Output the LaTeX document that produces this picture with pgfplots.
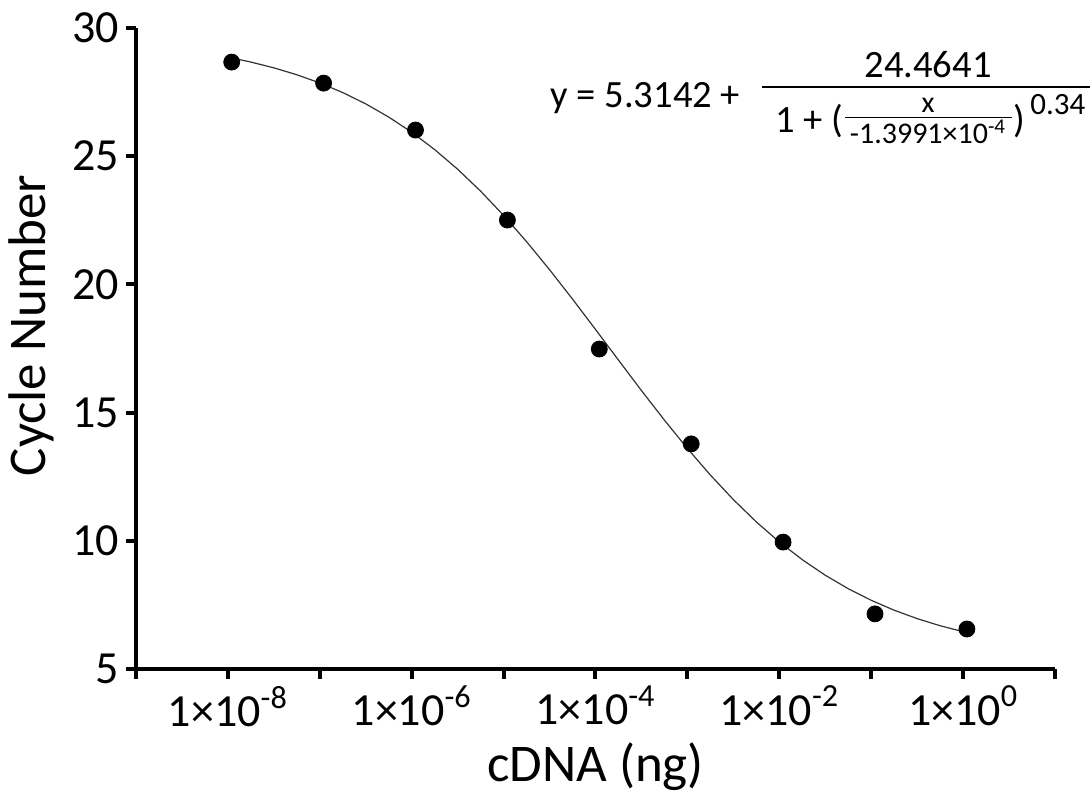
\documentclass[border=0pt]{standalone}
\usepackage{fontspec}
\setmainfont{Carlito}
\usepackage{pgfplots}
\pgfplotsset{compat=1.18}

\begin{document}
\begin{tikzpicture}
\begin{axis}[
    scale only axis,
    width=459.5pt, height=320.5pt,
    xmode=log,
    xmin=1e-9, xmax=1e1,
    ymin=5, ymax=30,
    axis lines=left,
    axis line style={-, line width=2pt},
    xtick={1e-9,1e-8,1e-7,1e-6,1e-5,1e-4,1e-3,1e-2,1e-1,1e0,1e1},
    xticklabels={,1×10\textsuperscript{-8},,1×10\textsuperscript{-6},,1×10\textsuperscript{-4},,1×10\textsuperscript{-2},,1×10\textsuperscript{0},},
    xminorticks=false,
    ytick={5,10,15,20,25,30},
    tick align=outside,
    major tick length=5pt,
    tick style={line width=2pt, black},
    /pgf/number format/assume math mode=true,
    ticklabel style={font=\fontsize{23}{27}\selectfont},
    xlabel={cDNA (ng)},
    ylabel={Cycle Number},
    label style={font=\fontsize{26.5}{30}\selectfont},
    xlabel style={at={(axis description cs:0.5,-0.152)}, anchor=center},
    ylabel style={at={(axis description cs:-0.114,0.536)}, anchor=center, rotate=0},
    clip=false,
]
% fitted curve, sampled by hand
\addplot[black!80, line width=0.6pt] coordinates {
    (1e-8,28.862) (1.778e-8,28.672) (3.162e-8,28.446) (5.623e-8,28.177)
    (1e-7,27.858) (1.778e-7,27.482) (3.162e-7,27.041) (5.623e-7,26.527)
    (1e-6,25.936) (1.778e-6,25.258) (3.162e-6,24.492) (5.623e-6,23.636)
    (1e-5,22.692) (1.778e-5,21.668) (3.162e-5,20.574) (5.623e-5,19.427)
    (1e-4,18.244) (1.778e-4,17.048) (3.162e-4,15.861) (5.623e-4,14.706)
    (1e-3,13.602) (1.778e-3,12.566) (3.162e-3,11.608) (5.623e-3,10.737)
    (1e-2,9.956) (1.778e-2,9.264) (3.162e-2,8.658) (5.623e-2,8.132)
    (1e-1,7.680) (1.778e-1,7.293) (3.162e-1,6.965) (5.623e-1,6.688)
    (1e0,6.455) (1.1e0,6.42)
};
% measured points
\addplot[only marks, mark=*, mark size=4pt, black] coordinates {
    (1.1e-8,28.67) (1.1e-7,27.85) (1.1e-6,26.02) (1.1e-5,22.51)
    (1.1e-4,17.48) (1.1e-3,13.78) (1.1e-2,9.95) (1.1e-1,7.15) (1.1e0,6.56)
};
\end{axis}
% fit equation, laid out by hand (origin = lower left of the axis box)
\begin{scope}[every node/.style={inner sep=0pt, font=\fontsize{19.3}{23}\selectfont}]
\node[anchor=base west] at (207pt,280.5pt) {y = 5.3142 +};
\draw[line width=0.8pt] (313pt,291pt) -- (477pt,291pt);
\node[anchor=base] at (396pt,295.5pt) {24.4641};
\node[anchor=base west] at (319.5pt,268.5pt) {1 + (};
\node[anchor=base, font=\fontsize{15}{18}\selectfont] at (396pt,278pt) {x};
\draw[line width=0.7pt] (354.5pt,275.8pt) -- (438pt,275.8pt);
\node[anchor=base, font=\fontsize{15}{18}\selectfont] at (396pt,262.5pt) {-1.3991×10\textsuperscript{-4}};
\node[anchor=base west] at (438.5pt,268.5pt) {)};
\node[anchor=base west, font=\fontsize{15.5}{18}\selectfont] at (447pt,277pt) {0.34};
\end{scope}
\pgfresetboundingbox
\path[use as bounding box] (-68pt,-65pt) rectangle (477pt,334.5pt);
\end{tikzpicture}
\end{document}
